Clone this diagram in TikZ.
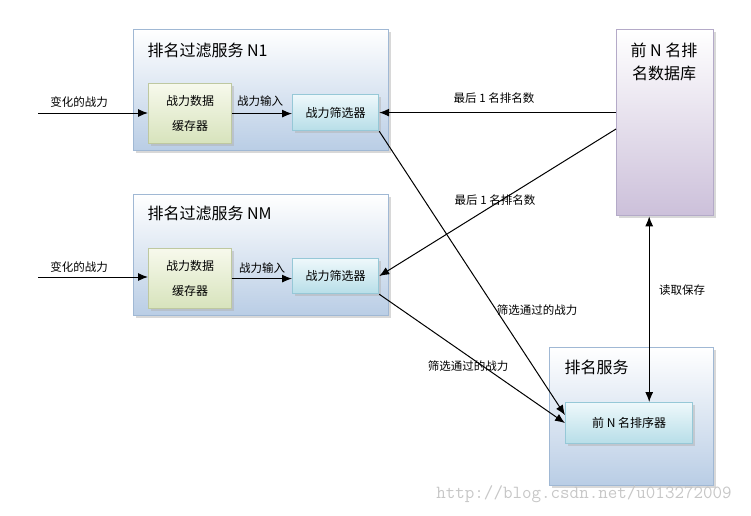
\documentclass[tikz,border=0pt]{standalone}
\usepackage{fontspec}
\setmainfont{Noto Sans CJK SC}
\usetikzlibrary{arrows.meta}
\usetikzlibrary{shadows}
\usetikzlibrary{calc}
\definecolor{svcline}{RGB}{160,184,212}
\definecolor{svcbot}{RGB}{185,205,229}
\definecolor{cacheline}{RGB}{190,200,160}
\definecolor{cachetop}{RGB}{247,249,236}
\definecolor{cachebot}{RGB}{215,227,188}
\definecolor{filtline}{RGB}{150,200,215}
\definecolor{filttop}{RGB}{238,248,251}
\definecolor{filtbot}{RGB}{183,222,232}
\definecolor{dbline}{RGB}{180,170,200}
\definecolor{dbbot}{RGB}{204,192,218}

\begin{document}
\begin{tikzpicture}[x=1pt,y=-1pt,
  boxshadow/.style={drop shadow={shadow xshift=2pt,shadow yshift=-2pt,fill=black!30}},
  svc/.style={draw=svcline,line width=1.4pt,top color=white,bottom color=svcbot,
    anchor=north west,boxshadow},
  cache/.style={draw=cacheline,line width=1.2pt,top color=cachetop,bottom color=cachebot,
    anchor=north west,align=center,font=\fontsize{12}{25}\selectfont,boxshadow},
  filt/.style={draw=filtline,line width=1.2pt,top color=filttop,bottom color=filtbot,
    anchor=north west,font=\fontsize{12}{14}\selectfont,boxshadow},
  dbox/.style={draw=dbline,line width=1.4pt,top color=white,bottom color=dbbot,
    anchor=north west,boxshadow},
  ttl/.style={font=\fontsize{16}{23}\selectfont,align=left},
  lbl/.style={font=\fontsize{11.5}{14}\selectfont},
  wm/.style={font=\ttfamily\fontsize{18.5}{20}\selectfont,text=black!22},
  arr/.style={-{Latex[length=10pt,width=8pt]},line width=1pt},
  darr/.style={{Latex[length=10pt,width=8pt]}-{Latex[length=10pt,width=8pt]},line width=1pt}]
  \useasboundingbox (0,0) rectangle (751,515);

  \node[svc,minimum width=255pt,minimum height=121pt] (s1) at (133,29) {};
  \node[ttl,anchor=west] (t1) at (144,50) {排名过滤服务 N1};
  \node[cache,minimum width=83pt,minimum height=60pt] (c1) at (148,83) {战力数据\\缓存器};
  \node[filt,minimum width=86pt,minimum height=36pt] (f1) at (292,94) {战力筛选器};

  \node[svc,minimum width=255pt,minimum height=121pt] (s2) at (133,194) {};
  \node[ttl,anchor=west] (t2) at (144,213) {排名过滤服务 NM};
  \node[cache,minimum width=83pt,minimum height=60pt] (c2) at (148,248) {战力数据\\缓存器};
  \node[filt,minimum width=86pt,minimum height=35pt] (f2) at (292,258) {战力筛选器};

  \node[dbox,minimum width=97pt,minimum height=186pt] (db) at (616,29) {};
  \node[ttl,align=center] (dbt) at (664,62) {前 N 名排\\名数据库};

  \node[svc,minimum width=164pt,minimum height=138pt] (rs) at (549,347) {};
  \node[ttl,anchor=west] (rt) at (561,367) {排名服务};
  \node[filt,minimum width=127pt,minimum height=41pt] (so) at (565,402) {前 N 名排序器};

  \coordinate (i1) at (38,113);
  \coordinate (i2) at (38,277);
  \coordinate (d2) at ($(db.north west)+(0,100)$);
  \coordinate (rw) at ([xshift=-16pt]db.south);

  \draw[arr] (i1) -- (i1 -| c1.west);
  \draw[arr] (c1.east) -- (c1.east -| f1.west);
  \draw[arr] (db.west |- f1.east) -- (f1.east);
  \draw[arr] (i2) -- (i2 -| c2.west);
  \draw[arr] (c2.east) -- (c2.east -| f2.west);
  \draw[arr] (d2) -- (f2.east);
  \draw[arr] (f1.south east) -- ($(so.west)+(0,-8)$);
  \draw[arr] (f2.south east) -- (so.west);
  \draw[darr] (rw) -- (rw |- so.north);

  \node[lbl] (l1) at (79,102) {变化的战力};
  \node[lbl] (l2) at (260,101) {战力输入};
  \node[lbl] (l3) at (494,98) {最后 1 名排名数};
  \node[lbl] (l4) at (79,267) {变化的战力};
  \node[lbl] (l5) at (262,268) {战力输入};
  \node[lbl] (l6) at (495,200) {最后 1 名排名数};
  \node[lbl] (l7) at (537,310) {筛选通过的战力};
  \node[lbl] (l8) at (468,366) {筛选通过的战力};
  \node[lbl] (l9) at (682,290) {读取保存};
  \node[wm] (wm) at (584,494) {http://blog.csdn.net/u013272009};
\end{tikzpicture}
\end{document}
